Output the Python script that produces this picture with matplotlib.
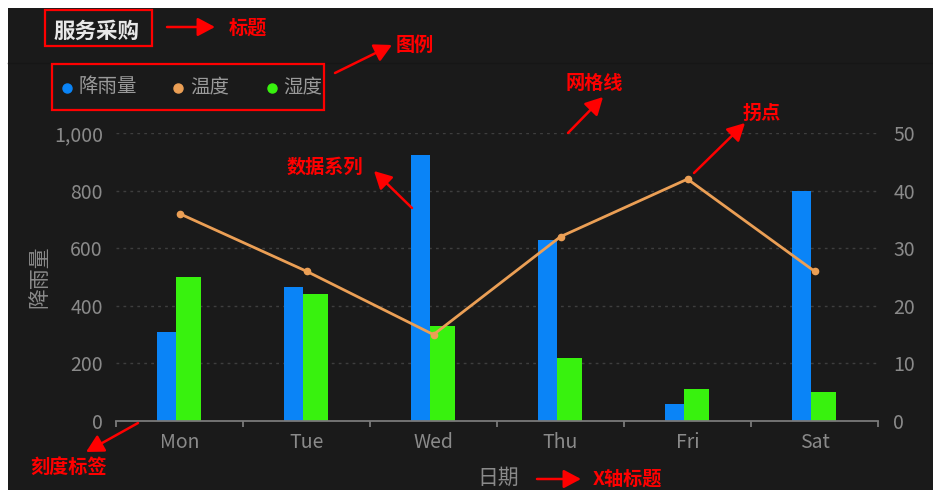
import matplotlib
matplotlib.use("Agg")
import matplotlib.pyplot as plt
from matplotlib.patches import Rectangle, FancyArrowPatch
from matplotlib.lines import Line2D
import numpy as np

plt.rcParams['font.family'] = ['Noto Sans CJK SC', 'DejaVu Sans']

# ---- data ----
days = ['Mon', 'Tue', 'Wed', 'Thu', 'Fri', 'Sat']
rain = [310, 465, 925, 630, 60, 800]
humidity = [500, 440, 330, 220, 110, 100]
temperature = [36, 26, 15, 32, 42, 26]
left_ticks = [0, 200, 400, 600, 800, 1000]
right_ticks = [0, 10, 20, 30, 40, 50]
title = '服务采购'
legend_names = ['降雨量', '温度', '湿度']
ylabel = '降雨量'
xlabel = '日期'

W, H = 933, 490
BG = '#1a1a1a'
BLUE = '#0a84f7'
GREEN = '#38f20e'
ORANGE = '#eb9f55'
GRAY = '#8a8a8a'
RED = '#ff0000'

fig = plt.figure(figsize=(W / 100, H / 100), dpi=100, facecolor='white')


def P(x, y):
    return (x / W, 1 - y / H)


# dark panel with white border top/left
fig.add_artist(Rectangle(P(8, 490), (W - 8) / W, (490 - 8) / H,
                         transform=fig.transFigure, facecolor=BG,
                         edgecolor='none', zorder=0))
# header separator (subtle)
fig.add_artist(Line2D([8 / W, 1], [1 - 63 / H] * 2, transform=fig.transFigure,
                      color='#161616', lw=1.0, zorder=1))

# axes
L, R, T, B = 116, 878, 133, 421
ax = fig.add_axes([L / W, 1 - B / H, (R - L) / W, (B - T) / H])
ax.set_facecolor('none')
x = np.arange(len(days))
ax.bar(x - 0.177, rain, width=0.150, align='edge', color=BLUE, zorder=3)
ax.bar(x - 0.027, humidity, width=0.197, align='edge', color=GREEN, zorder=3)
ax.set_xlim(-0.5, len(days) - 0.5)
ax.set_ylim(0, 1000)
ax.set_yticks(left_ticks)
ax.set_yticklabels([f'{v:,}' for v in left_ticks])
for v in left_ticks[1:]:
    ax.axhline(v, color='#3e3e3e', lw=1, ls=(0, (2, 3)), zorder=1)
for s in ['top', 'right', 'left']:
    ax.spines[s].set_visible(False)
ax.spines['bottom'].set_color('#7a7a7a')
ax.spines['bottom'].set_linewidth(1.3)
ax.spines['bottom'].set_zorder(4)
ax.set_xticks(x)
ax.set_xticklabels(days)
ax.set_xticks(np.arange(-0.5, len(days)), minor=True)
ax.tick_params(axis='x', which='major', length=0, pad=8, labelsize=14, labelcolor=GRAY)
ax.tick_params(axis='x', which='minor', length=4, width=1.3, color='#7a7a7a', direction='out')
ax.tick_params(axis='y', length=0, pad=9.5, labelsize=14, labelcolor=GRAY)

ax2 = ax.twinx()
ax2.set_ylim(0, 50)
ax2.set_yticks(right_ticks)
for s in ['top', 'right', 'left', 'bottom']:
    ax2.spines[s].set_visible(False)
ax2.tick_params(axis='y', length=0, pad=11, labelsize=14, labelcolor=GRAY)
ax2.plot(x, temperature, color=ORANGE, lw=2, marker='o', markersize=4.5, zorder=5)

# titles
fig.text(*P(53, 31), title, fontsize=15.5, fontweight='bold', color='#e8e8e8', va='center', ha='left')
fig.text(*P(39, 277), ylabel, fontsize=15, color=GRAY, rotation=90, va='center', ha='center')
fig.text(*P(498, 478), xlabel, fontsize=15, color=GRAY, va='center', ha='center')

# legend
leg_cols = [BLUE, ORANGE, GREEN]
leg_dot_x = [67, 178, 272]
leg_txt_x = [79, 190, 283]
for c, dx, tx, name in zip(leg_cols, leg_dot_x, leg_txt_x, legend_names):
    fig.add_artist(Line2D([dx / W], [1 - 88 / H], transform=fig.transFigure, marker='o',
                          markersize=6.5, color=c, lw=0))
    fig.text(*P(tx, 87), name, fontsize=14, color='#9a9a9a', va='center', ha='left')

# red boxes
def box(x0, y0, x1, y1):
    fig.add_artist(Rectangle(P(x0, y1), (x1 - x0) / W, (y1 - y0) / H, transform=fig.transFigure,
                             facecolor='none', edgecolor=RED, lw=1.6, zorder=6))

box(45, 10, 152, 46)
box(52, 64, 324, 110)

# annotations
def arrow(x0, y0, x1, y1):
    fig.add_artist(FancyArrowPatch(P(x0, y0), P(x1, y1), transform=fig.transFigure,
                                   arrowstyle='-|>,head_length=0.75,head_width=0.4',
                                   mutation_scale=14, color=RED, lw=1.8, zorder=7,
                                   shrinkA=0, shrinkB=0))

def note(xc, yc, s, ha='left'):
    fig.text(*P(xc, yc), s, fontsize=13.8, fontweight='bold', color=RED, va='center', ha=ha, zorder=7)

arrow(167, 27, 215, 27)
note(229, 28, '标题')
arrow(335, 73, 392, 45)
note(396, 45, '图例')
arrow(568, 133, 603, 97)
note(566, 83, '网格线')
arrow(694, 173, 745, 123)
note(743, 113, '拐点')
arrow(412, 208, 374, 171)
note(287, 167, '数据系列')
arrow(138, 423, 86, 452)
note(30, 467, '刻度标签')
arrow(537, 479, 581, 479)
note(593, 479, 'X轴标题')

fig.savefig('out.png', dpi=100, facecolor='white')
